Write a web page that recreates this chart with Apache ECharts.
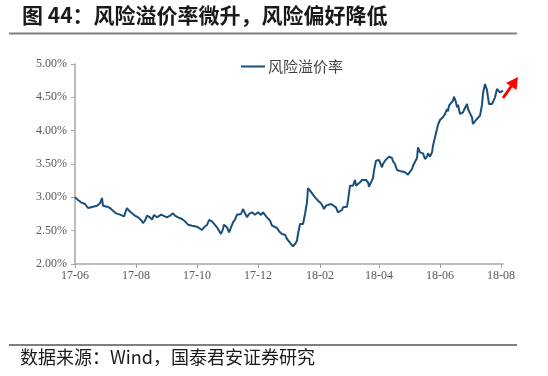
<!DOCTYPE html>
<html>
<head>
<meta charset="utf-8">
<script src="https://cdn.jsdelivr.net/npm/echarts@6/dist/echarts.min.js"></script>
<style>
html,body{margin:0;padding:0;background:#fff;}
#c{width:548px;height:376px;}
</style>
</head>
<body>
<div id="c"></div>
<script>
// days since 2017-06-01
var days = [0,3,6,8,10,13,15,18,22,25,27,28,32,35,38,41,43,45,47,49,52,54,57,60,63,66,68,70,72,75,77,79,82,83,86,88,92,95,98,100,103,107,110,113,117,119,122,124,127,129,132,134,137,139,142,144,146,148,149,152,154,156,158,160,162,163,166,168,170,172,174,177,178,180,182,183,186,188,190,192,195,197,199,202,204,207,208,210,212,214,216,218,220,222,223,225,227,228,230,232,233,235,238,240,243,246,248,249,251,253,256,258,261,263,264,267,268,272,273,275,277,278,280,281,283,285,287,288,291,293,294,296,298,299,301,302,304,307,308,310,312,314,317,318,320,322,324,326,328,330,332,333,335,337,338,340,342,343,345,347,348,350,352,353,355,357,358,360,362,363,365,367,368,370,372,373,374,376,378,379,381,382,383,385,387,388,390,392,393,395,397,398,399,401,403,405,407,408,410,412,413,414,417,419,420,422,423,425,426,427,428];
var riskPremium = [3.00,2.96,2.925,2.95,2.90,2.84,2.85,2.86,2.875,2.91,2.99,2.875,2.86,2.84,2.80,2.76,2.775,2.74,2.76,2.715,2.84,2.80,2.76,2.725,2.70,2.66,2.615,2.65,2.725,2.70,2.665,2.735,2.70,2.685,2.74,2.71,2.70,2.725,2.76,2.725,2.70,2.675,2.64,2.59,2.575,2.59,2.56,2.575,2.51,2.55,2.585,2.66,2.64,2.615,2.55,2.50,2.45,2.525,2.59,2.55,2.475,2.55,2.625,2.665,2.74,2.76,2.75,2.825,2.80,2.70,2.75,2.775,2.80,2.74,2.76,2.775,2.735,2.775,2.75,2.70,2.65,2.575,2.55,2.54,2.49,2.45,2.475,2.44,2.375,2.34,2.30,2.265,2.30,2.35,2.45,2.60,2.61,2.60,2.75,2.925,3.14,3.10,3.04,3.00,2.95,2.91,2.86,2.825,2.875,2.89,2.90,2.875,2.85,2.775,2.75,2.81,2.85,2.86,2.95,3.175,3.20,3.175,3.26,3.175,3.175,3.225,3.26,3.26,3.26,3.225,3.16,3.225,3.29,3.40,3.55,3.575,3.56,3.45,3.50,3.55,3.575,3.61,3.59,3.54,3.50,3.41,3.425,3.39,3.40,3.375,3.375,3.34,3.325,3.425,3.475,3.50,3.59,3.75,3.675,3.69,3.66,3.575,3.61,3.66,3.61,3.675,3.775,3.90,4.025,4.09,4.16,4.175,4.20,4.25,4.325,4.29,4.375,4.40,4.45,4.51,4.425,4.35,4.39,4.25,4.275,4.275,4.34,4.40,4.325,4.26,4.20,4.10,4.075,4.16,4.19,4.225,4.39,4.56,4.70,4.61,4.50,4.40,4.40,4.40,4.50,4.625,4.64,4.575,4.55,4.59,4.60];
var tickDays = [0,61,122,183,245,304,365,426];
var tickLabels = ['17-06','17-08','17-10','17-12','18-02','18-04','18-06','18-08'];
var seriesName = '风险溢价率';
var titleText = '图 44：风险溢价率微升，风险偏好降低';
var sourceText = '数据来源：Wind，国泰君安证券研究';

var data = days.map(function(d,i){return [d, riskPremium[i]];});
var chart = echarts.init(document.getElementById('c'), null, {renderer:'canvas'});
var serif = '"Liberation Serif","Times New Roman",serif';
var cjk = '"Noto Sans CJK SC",sans-serif';
chart.setOption({
  animation:false,
  backgroundColor:'#fff',
  grid:{left:75,right:45,top:64,bottom:112,containLabel:false},
  legend:{
    data:[seriesName], left:236, top:54, itemWidth:24, itemHeight:2, itemGap:4,
    icon:'rect',
    textStyle:{fontFamily:cjk,fontSize:15,color:'#404040',padding:[0,0,0,-2]}
  },
  xAxis:{
    type:'value', min:0, max:428,
    axisLine:{show:true,lineStyle:{color:'#A6A6A6',width:1.5}},
    axisTick:{show:true,length:4,customValues:tickDays,lineStyle:{color:'#A6A6A6'}},
    axisLabel:{customValues:tickDays,margin:6,fontFamily:serif,fontSize:12,color:'#595959',
      formatter:function(v){var i=tickDays.indexOf(Math.round(v));return i>=0?tickLabels[i]:'';}},
    splitLine:{show:false}
  },
  yAxis:{
    type:'value', min:2, max:5, interval:0.5,
    axisLine:{show:true,lineStyle:{color:'#A6A6A6',width:1.5}},
    axisTick:{show:true,length:4,lineStyle:{color:'#A6A6A6'}},
    axisLabel:{margin:8,fontFamily:serif,fontSize:12,color:'#595959',
      formatter:function(v){return v.toFixed(2)+'%';}},
    splitLine:{show:false}
  },
  series:[{
    name:seriesName, type:'line', data:data, showSymbol:false, symbol:'none',
    lineStyle:{color:'#1B4F7B',width:2}, itemStyle:{color:'#1B4F7B'}
  }],
  graphic:[
    {type:'text',left:22,top:5,style:{text:titleText,font:'bold 21px '+cjk,fill:'#1a1a1a'}},
    {type:'line',shape:{x1:9,y1:33.5,x2:517,y2:33.5},style:{stroke:'#7f7f7f',lineWidth:2}},
    {type:'line',shape:{x1:9,y1:345,x2:517,y2:345},style:{stroke:'#7f7f7f',lineWidth:2}},
    {type:'text',left:20,top:348,style:{text:sourceText,font:'18px '+cjk,fill:'#1a1a1a'}},
    {type:'line',shape:{x1:503,y1:98,x2:511.5,y2:86},style:{stroke:'#FF0000',lineWidth:3}},
    {type:'polygon',shape:{points:[[518,77],[516.5,90],[506,83]]},style:{fill:'#FF0000'}}
  ]
});
</script>
</body>
</html>
